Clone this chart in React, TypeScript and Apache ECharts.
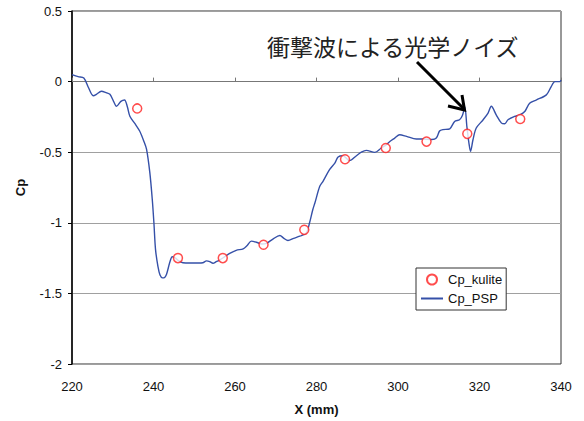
import React, { useEffect, useRef } from "react";
import * as echarts from "echarts";

const kuliteX = [236, 246, 257, 267, 277, 287, 297, 307, 317, 330];
const kuliteY = [-0.19, -1.25, -1.25, -1.155, -1.05, -0.55, -0.47, -0.425, -0.37, -0.265];

const pspX = [
  220, 221.5, 222.9, 224, 225.2, 226, 227.2, 228.5, 229.3, 230.2, 230.9, 232, 232.9, 233.6, 234.2, 235.5,
  236.6, 237.6, 238.3, 239.1, 239.7, 240.1, 240.5, 241.1, 241.6, 242.2, 242.8, 243.2, 244.0, 244.6, 245.4,
  246.2, 247.2, 249, 251, 252.1, 253.0, 253.8, 254.6, 255.4, 256.2, 257.5, 258.7, 260.3, 262.0, 263, 264.0,
  265.6, 266.5, 267.7, 269.3, 271.0, 272, 273.0, 274.4, 275.9, 277.5, 278.3, 279.1, 279.6, 280.8, 281.6,
  283.2, 284.5, 285.3, 286.5, 288.1, 289.8, 291, 292.2, 294.3, 295.9, 297, 298.0, 299.2, 300.4, 302.1,
  304.5, 306.1, 308.3, 309.4, 310.2, 311.0, 312.7, 313.9, 315.1, 315.8, 316.4, 316.9, 317.4, 317.8, 318.4,
  319.2, 320.9, 322.1, 322.9, 324.1, 325.4, 326.2, 327.0, 328.6, 329.9, 331.1, 332.3, 334.0, 336.4, 337.6,
  338.5, 339.7, 340,
];
const pspY = [
  0.05, 0.035, 0.025, -0.04, -0.1, -0.09, -0.068, -0.08, -0.09, -0.14, -0.175, -0.14, -0.13, -0.18, -0.245, -0.3,
  -0.35, -0.42, -0.48, -0.645, -0.835, -1.0, -1.19, -1.31, -1.37, -1.39, -1.385, -1.365, -1.28, -1.24, -1.25,
  -1.27, -1.283, -1.285, -1.285, -1.283, -1.27, -1.275, -1.287, -1.275, -1.264, -1.24, -1.217, -1.195, -1.184, -1.16, -1.13,
  -1.141, -1.15, -1.146, -1.115, -1.09, -1.11, -1.125, -1.11, -1.095, -1.071, -1.0, -0.906, -0.86, -0.742, -0.706,
  -0.624, -0.577, -0.534, -0.525, -0.56, -0.525, -0.5, -0.487, -0.501, -0.47, -0.45, -0.424, -0.4, -0.376, -0.388,
  -0.407, -0.407, -0.41, -0.4, -0.35, -0.34, -0.334, -0.282, -0.27, -0.24, -0.18, -0.318, -0.435, -0.494, -0.412,
  -0.329, -0.27, -0.223, -0.175, -0.235, -0.294, -0.299, -0.27, -0.247, -0.235, -0.212, -0.153, -0.129, -0.094, -0.035,
  0.0, 0.0, 0.012,
];

const annotationText = "衝撃波による光学ノイズ";
const FONT = "'Liberation Sans', Arial, sans-serif";

export default function App() {
  const ref = useRef<HTMLDivElement>(null);
  useEffect(() => {
    if (!ref.current) return;
    const chart = echarts.init(ref.current, undefined, { renderer: "svg" });
    const xCommon = { type: "value", min: 220, max: 340, interval: 20 };
    chart.setOption({
      animation: false,
      backgroundColor: "#ffffff",
      textStyle: { fontFamily: FONT },
      grid: {
        left: 72, right: 23, top: 11, bottom: 56,
        show: true, borderColor: "#333", borderWidth: 1, backgroundColor: "transparent",
      },
      legend: {
        orient: "vertical", left: 416, top: 268,
        backgroundColor: "#fff", borderColor: "#333", borderWidth: 1,
        padding: [5, 4, 5, 4], itemGap: 6, itemWidth: 22, itemHeight: 10,
        textStyle: { fontSize: 13, color: "#111", fontFamily: FONT },
        data: [
          { name: "Cp_kulite" },
          { name: "Cp_PSP", itemStyle: { opacity: 0 } },
        ],
      },
      xAxis: [
        {
          ...xCommon,
          position: "bottom",
          axisLine: { show: false, onZero: false },
          axisTick: { show: false },
          splitLine: { show: false },
          axisLabel: { fontSize: 13, color: "#111", margin: 16, fontFamily: FONT },
          name: "X (mm)", nameLocation: "middle", nameGap: 39,
          nameTextStyle: { fontSize: 13, fontWeight: "bold", color: "#111", fontFamily: FONT },
        },
        {
          ...xCommon,
          position: "bottom",
          axisLine: { show: true, onZero: true, lineStyle: { color: "#777", width: 1 } },
          axisTick: { show: true, inside: true, length: 4, lineStyle: { color: "#777" } },
          axisLabel: { show: false },
          splitLine: { show: false },
        },
      ],
      yAxis: {
        type: "value", min: -2, max: 0.5, interval: 0.5,
        axisLine: { show: true, onZero: false, lineStyle: { color: "#000", width: 1.5 } },
        axisTick: { show: true, length: 4, lineStyle: { color: "#000" } },
        axisLabel: { fontSize: 13, color: "#111", margin: 10, fontFamily: FONT },
        splitLine: { show: true, lineStyle: { color: "#a0a0a0", width: 1 } },
        name: "Cp", nameLocation: "middle", nameGap: 45,
        nameTextStyle: { fontSize: 13, fontWeight: "bold", color: "#111", fontFamily: FONT },
      },
      series: [
        {
          name: "Cp_kulite", type: "scatter", xAxisIndex: 0, z: 5,
          symbol: "circle", symbolSize: 9,
          itemStyle: { color: "#ffffff", borderColor: "#ff2020", borderWidth: 1.5 },
          data: kuliteX.map((x, i) => [x, kuliteY[i]]),
        },
        {
          name: "Cp_PSP", type: "line", xAxisIndex: 0, z: 3,
          symbol: "none", smooth: 0.3,
          lineStyle: { color: "#3550a8", width: 1.4 },
          itemStyle: { color: "#3550a8" },
          data: pspX.map((x, i) => [x, pspY[i]]),
        },
      ],
      graphic: [
        {
          type: "text", left: 267, top: 34, z: 10,
          style: { text: annotationText, fontSize: 23, fill: "#222", fontFamily: "'Noto Sans CJK JP', sans-serif" },
        },
        {
          type: "line", z: 10,
          shape: { x1: 417, y1: 62, x2: 464, y2: 109 },
          style: { stroke: "#000", lineWidth: 3 },
        },
        {
          type: "polyline", z: 10,
          shape: { points: [[448, 106], [464.5, 110], [462, 95]] },
          style: { stroke: "#000", lineWidth: 3, fill: null },
        },
      ],
    });
    return () => chart.dispose();
  }, []);
  return <div ref={ref} style={{ width: 584, height: 421, position: "absolute", left: 0, top: 0 }} />;
}
